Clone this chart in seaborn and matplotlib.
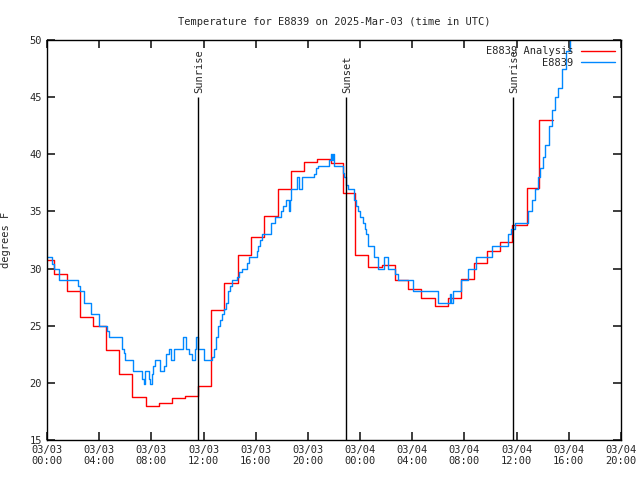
import pandas as pd
import matplotlib
matplotlib.use("Agg")
import matplotlib.pyplot as plt
import seaborn as sns

# hours since 03/03 00:00 UTC, temps in F
red_hours = [0.0, 0.55, 1.55, 2.55, 3.55, 4.55, 5.55, 6.55, 7.6, 8.55, 9.6, 10.6,
             11.6, 12.6, 13.6, 14.64, 15.67, 16.64, 17.7, 18.7, 19.7, 20.7, 21.77,
             22.7, 23.6, 24.6, 25.67, 26.64, 27.67, 28.7, 29.77, 30.75, 31.77, 32.7,
             33.75, 34.7, 35.67, 36.77, 37.7, 38.75]
red_temps = [30.75, 29.5, 28.0, 25.8, 24.95, 22.9, 20.8, 18.76, 17.97, 18.2, 18.65, 18.85,
             19.7, 26.35, 28.7, 31.16, 32.73, 34.57, 36.93, 38.5, 39.3, 39.56, 39.2,
             36.6, 31.16, 30.1, 30.28, 28.97, 28.24, 27.43, 26.73, 27.43, 29.06, 30.46,
             31.5, 32.3, 33.78, 37.02, 42.97, 42.97]

blue_hours = [0.0, 0.36, 0.54, 0.92, 2.41, 2.54, 2.87, 3.36, 4.0, 4.59, 4.72, 5.74,
              5.87, 6.0, 6.56, 7.28, 7.4, 7.54, 7.79, 7.9, 8.05, 8.15, 8.31, 8.69,
              9.0, 9.15, 9.33, 9.51, 9.77, 10.44, 10.64, 10.9, 11.13, 11.31, 11.45, 11.56,
              12.03, 12.66, 12.8, 12.95, 13.1, 13.25, 13.4, 13.56, 13.7, 13.85, 14.0, 14.2,
              14.6, 14.75, 14.97, 15.35, 15.49, 16.08, 16.2, 16.33, 16.5, 17.15, 17.5, 17.92,
              18.1, 18.31, 18.55, 18.62, 18.69, 19.2, 19.3, 19.51, 20.49, 20.6, 20.74, 21.64,
              21.75, 21.85, 21.95, 22.03, 22.67, 22.8, 22.92, 23.05, 23.56, 23.7, 23.85, 24.0,
              24.2, 24.35, 24.45, 24.59, 25.05, 25.36, 25.87, 26.13, 26.64, 26.9, 28.05, 29.97,
              30.87, 31.0, 31.15, 31.38, 31.77, 32.28, 32.92, 34.08, 35.36, 35.6, 35.87, 36.9,
              37.15, 37.4, 37.6, 37.79, 38.0, 38.18, 38.45, 38.69, 38.95, 39.2, 39.5, 39.8,
              40.1, 40.3]
blue_temps = [31.0, 30.4, 30.0, 29.0, 28.5, 28.0, 27.0, 26.0, 25.0, 24.5, 24.0, 23.0,
              22.6, 22.0, 21.0, 20.3, 19.9, 21.0, 20.3, 19.9, 20.8, 21.5, 22.0, 21.0,
              21.5, 22.5, 23.0, 22.0, 23.0, 24.0, 23.0, 22.5, 22.0, 23.0, 24.0, 23.0,
              22.0, 22.3, 23.0, 24.0, 25.0, 25.5, 26.0, 26.5, 27.0, 28.0, 28.5, 29.0,
              29.3, 29.7, 30.0, 30.5, 31.0, 31.5, 32.0, 32.5, 33.0, 34.0, 34.5, 35.0,
              35.5, 36.0, 35.0, 36.0, 37.0, 38.0, 37.0, 38.0, 38.3, 38.8, 39.0, 39.5,
              40.0, 39.5, 40.0, 39.0, 38.4, 38.0, 37.3, 37.0, 36.0, 35.5, 35.0, 34.5,
              34.0, 33.5, 33.0, 32.0, 31.0, 30.0, 31.0, 30.0, 29.5, 29.0, 28.0, 27.0,
              27.8, 27.0, 28.0, 28.0, 29.0, 30.0, 31.0, 32.0, 33.0, 33.5, 34.0, 35.0,
              36.0, 37.0, 38.0, 38.8, 39.8, 40.8, 42.5, 43.9, 45.0, 45.8, 47.5, 49.0,
              50.5, 51.5]

event_hours = [11.54, 22.92, 35.69]
event_names = ["Sunrise", "Sunset", "Sunrise"]

tick_hours = [0, 4, 8, 12, 16, 20, 24, 28, 32, 36, 40, 44]
tick_labels = ["03/03\n00:00", "03/03\n04:00", "03/03\n08:00", "03/03\n12:00",
               "03/03\n16:00", "03/03\n20:00", "03/04\n00:00", "03/04\n04:00",
               "03/04\n08:00", "03/04\n12:00", "03/04\n16:00", "03/04\n20:00"]

red_df = pd.DataFrame({"hours": red_hours, "temp": red_temps})
blue_df = pd.DataFrame({"hours": blue_hours, "temp": blue_temps})

sns.set_theme(style="ticks", rc={
    "xtick.direction": "in", "ytick.direction": "in",
    "xtick.top": True, "ytick.right": True,
    "xtick.major.size": 6, "ytick.major.size": 6,
    "axes.linewidth": 1.0, "axes.edgecolor": "black",
})
plt.rcParams["font.family"] = ["DejaVu Sans Mono"]
plt.rcParams["font.size"] = 7.5

fig = plt.figure(figsize=(6.4, 4.8), dpi=100)
ax = fig.add_axes([47 / 640, 40 / 480, 574 / 640, 400 / 480])

sns.lineplot(data=red_df, x="hours", y="temp", color="#ff0000", drawstyle="steps-post",
             lw=1, estimator=None, sort=False, label="E8839 Analysis", ax=ax)
sns.lineplot(data=blue_df, x="hours", y="temp", color="#0088ff", drawstyle="steps-post",
             lw=1, estimator=None, sort=False, label="E8839", ax=ax)

# sunrise / sunset markers
ax.vlines(event_hours, 15, 45, color="black", lw=1)
for h, name in zip(event_hours, event_names):
    ax.text(h + 0.1, 45.4, name, rotation=90, ha="center", va="bottom", fontsize=7.5)

ax.set_xlim(0, 44)
ax.set_ylim(15, 50)
ax.set_xticks(tick_hours)
ax.set_xticklabels(tick_labels, fontsize=7.5)
ax.set_yticks(range(15, 51, 5))
ax.tick_params(axis="y", labelsize=7.5)
ax.set_xlabel("")
ax.set_ylabel("degrees F", fontsize=7.5)
ax.yaxis.set_label_coords(-0.062, 0.5)
ax.set_title("Temperature for E8839 on 2025-Mar-03 (time in UTC)", fontsize=7.5, pad=11)

ax.legend(loc="upper right", frameon=False, markerfirst=False, fontsize=7.5,
          handlelength=3.2, borderaxespad=0.2, labelspacing=0.15, handletextpad=0.8)

fig.savefig("out.png", dpi=100)
